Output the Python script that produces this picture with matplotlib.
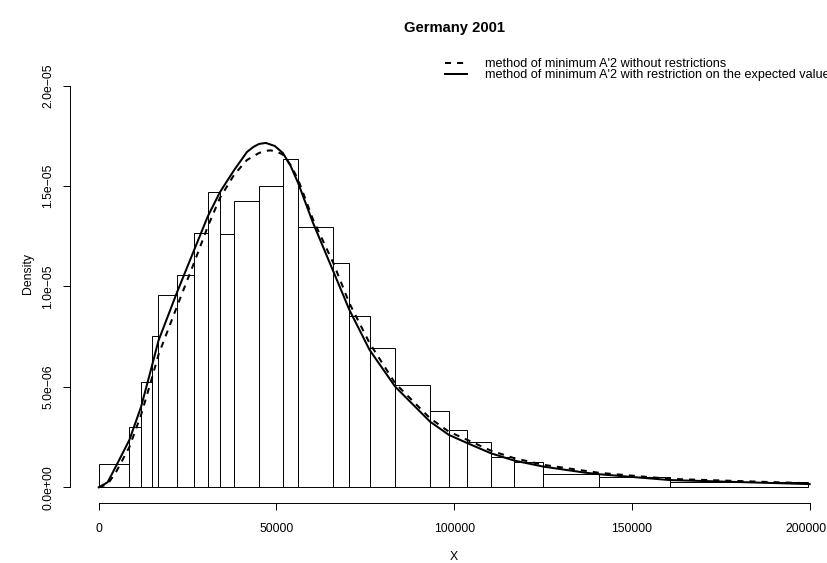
'''
Histogram of incomes (Germany 2001) with two fitted densities.
'''
import matplotlib
matplotlib.use("Agg")
import matplotlib.pyplot as plt
import matplotlib.transforms as mtransforms
import numpy as np

plt.rcParams['font.family'] = ['Liberation Sans', 'DejaVu Sans']

# histogram bins (unequal widths) and densities
bin_edges = [0, 8600, 11900, 14900, 16800, 22000, 26800, 30700, 34100, 38100,
             45100, 51800, 56100, 66000, 70500, 76200, 83400, 93200, 98500,
             103700, 110400, 116900, 125100, 140800, 160700, 199500]
bin_density = [1.16, 3.02, 5.23, 7.54, 9.60, 10.55, 12.66, 14.72, 12.59, 14.24,
               14.99, 16.37, 12.98, 11.15, 8.55, 6.96, 5.08, 3.79, 2.87, 2.24,
               1.53, 1.25, 0.65, 0.51, 0.28]  # x 1e-6

# fitted density, restriction on expected value (solid)
x_restr = [0, 2500, 5000, 8600, 11900, 14900, 16800, 22000, 26800, 30700,
           34100, 38100, 41700, 43500, 45100, 47000, 49500, 51800, 54000,
           56100, 60300, 66000, 70500, 76200, 83400, 93200, 98500, 103700,
           110400, 116900, 125100, 136800, 140800, 160700, 200000]
y_restr = [0, 0.25, 1.1, 2.35, 4.0, 6.0, 7.3, 9.7, 11.8, 13.5,
           14.7, 15.8, 16.7, 16.95, 17.1, 17.15, 17.0, 16.65, 16.0,
           15.15, 13.16, 10.75, 8.84, 6.84, 5.01, 3.27, 2.61, 2.2,
           1.69, 1.33, 1.03, 0.73, 0.65, 0.36, 0.16]

# fitted density, no restrictions (dashed)
x_free = [0, 2500, 5000, 8600, 11900, 14900, 16800, 22000, 26800, 30700,
          34100, 38100, 41700, 45100, 46800, 48300, 50000, 51800, 54000,
          56100, 60300, 66000, 70500, 76200, 83400, 93200, 98500, 103700,
          110400, 116900, 125100, 140800, 160700, 200000]
y_free = [0, 0.15, 0.8, 2.0, 3.6, 5.4, 6.6, 9.0, 11.17, 13.0,
          14.41, 15.57, 16.3, 16.65, 16.75, 16.78, 16.72, 16.57, 16.05,
          15.32, 13.33, 11.17, 9.17, 7.18, 5.18, 3.44, 2.77, 2.36,
          1.82, 1.45, 1.12, 0.72, 0.42, 0.2]

x_ticks = [0, 50000, 100000, 150000, 200000]
y_ticks = [0, 5e-6, 1e-5, 1.5e-5, 2e-5]
y_tick_labels = ["0.0e+00", "5.0e\u221206", "1.0e\u221205", "1.5e\u221205", "2.0e\u221205"]

W, H = 828, 563
fig = plt.figure(figsize=(W / 100, H / 100), dpi=100)
left, right, top, bottom = 70.3, 838.1, 44.6, 503.4
ax = fig.add_axes([left / W, 1 - bottom / H, (right - left) / W, (bottom - top) / H])

edges = np.array(bin_edges)
dens = np.array(bin_density) * 1e-6
ax.bar(edges[:-1], dens, width=np.diff(edges), align='edge',
       facecolor='white', edgecolor='black', linewidth=0.7)

ax.plot(x_free, np.array(y_free) * 1e-6, color='black', lw=1.45,
        dashes=(3, 3), solid_joinstyle='round',
        label="method of minimum A'2 without restrictions")
ax.plot(x_restr, np.array(y_restr) * 1e-6, color='black', lw=1.45,
        solid_joinstyle='round',
        label="method of minimum A'2 with restriction on the expected value")

ax.set_xlim(-8000, 208000)
ax.set_ylim(-0.802e-6, 2.2047e-5)

for s in ['top', 'right']:
    ax.spines[s].set_visible(False)
ax.spines['left'].set_bounds(0, 2e-5)
ax.spines['bottom'].set_bounds(0, 200000)
ax.spines['left'].set_linewidth(0.7)
ax.spines['bottom'].set_linewidth(0.7)

fs = 8.8
ax.set_xticks(x_ticks)
ax.set_xticklabels([str(v) for v in x_ticks])
ax.set_yticks(y_ticks)
ax.set_yticklabels(y_tick_labels, rotation=90, va='center')
ax.tick_params(axis='both', direction='out', length=5.2, width=0.7, labelsize=fs)
ax.tick_params(axis='x', pad=9)
ax.tick_params(axis='y', pad=6.5)

# last x label sits on the figure edge: nudge it a few pixels left
last = ax.get_xticklabels()[-1]
last.set_transform(last.get_transform() +
                   mtransforms.ScaledTranslation(-4 / 100, 0, fig.dpi_scale_trans))

ax.set_xlabel("X", fontsize=fs)
ax.xaxis.set_label_coords(0.5, -0.104)
ax.set_ylabel("Density", fontsize=fs)
ax.yaxis.set_label_coords(-0.0469, 0.5)

ax.set_title("Germany 2001", fontweight='bold', fontsize=10.6, pad=9.3)

ax.legend(loc='upper left', bbox_to_anchor=(445 / W, 1 - 58 / H),
          bbox_transform=fig.transFigure, frameon=False, fontsize=9.05,
          borderpad=0, borderaxespad=0, handlelength=1.75, handletextpad=1.4,
          labelspacing=-0.07)

fig.savefig("out.png", dpi=100)
